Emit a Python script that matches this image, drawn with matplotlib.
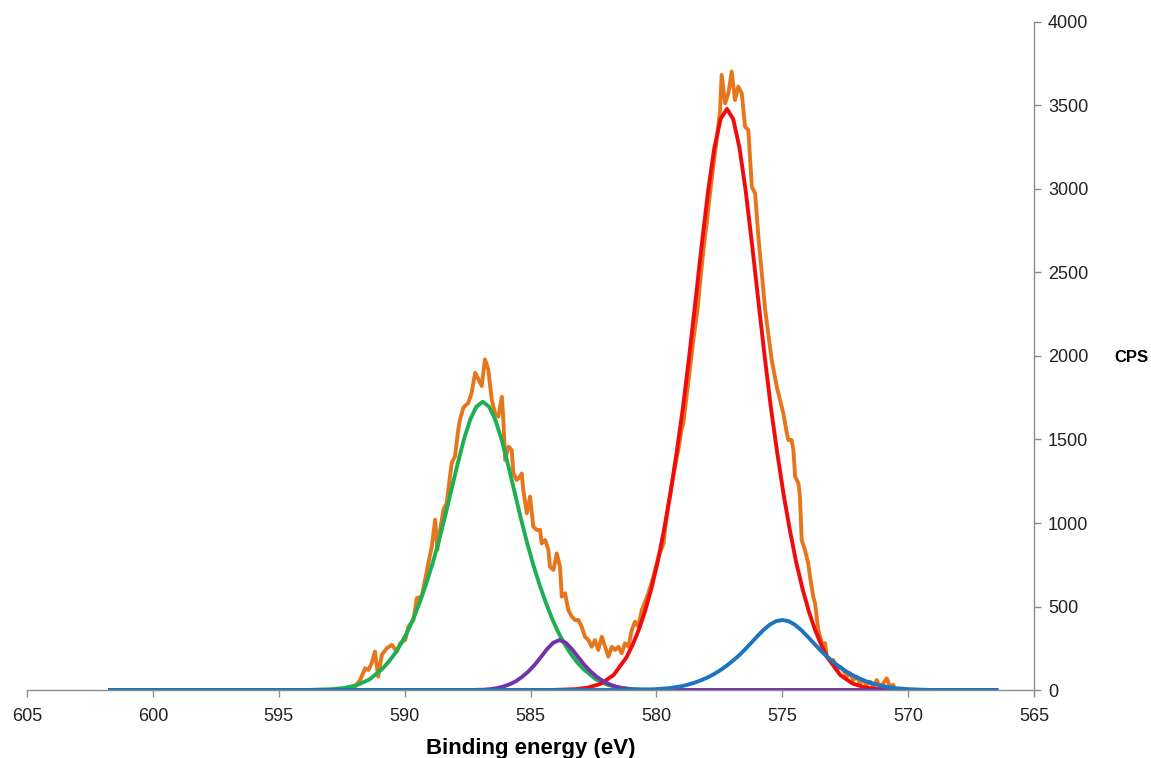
import matplotlib.pyplot as plt

plt.rcParams["font.family"] = ["Liberation Sans", "DejaVu Sans"]

# measured spectrum (binding energy in eV, counts per second)
raw_ev = [591.97, 591.77, 591.57, 591.44, 591.31, 591.18, 591.05, 590.91, 590.71, 590.51,
          590.31, 590.18, 589.98, 589.85, 589.65, 589.52, 589.32, 589.19, 589.06, 588.92,
          588.79, 588.70, 588.59, 588.46, 588.33, 588.20, 588.13, 588.00, 587.87, 587.80,
          587.67, 587.47, 587.34, 587.20, 587.07, 586.94, 586.81, 586.68, 586.54, 586.41,
          586.28, 586.14, 586.08, 586.01, 585.88, 585.75, 585.68, 585.55, 585.42, 585.35,
          585.29, 585.15, 585.02, 584.89, 584.75, 584.62, 584.56, 584.42, 584.29, 584.23,
          584.09, 583.96, 583.83, 583.76, 583.63, 583.50, 583.36, 583.23, 583.10, 582.97,
          582.84, 582.70, 582.57, 582.44, 582.31, 582.17, 582.04, 581.91, 581.77, 581.64,
          581.51, 581.38, 581.25, 581.11, 580.98, 580.85, 580.72, 580.58, 580.32, 580.12,
          579.92, 579.72, 579.66, 579.53, 579.40, 579.27, 579.13, 579.00, 578.93, 578.80,
          578.66, 578.53, 578.37, 578.26, 578.13, 578.00, 577.86, 577.73, 577.60, 577.47,
          577.41, 577.27, 577.14, 577.01, 576.88, 576.75, 576.61, 576.48, 576.35, 576.21,
          576.08, 575.95, 575.68, 575.42, 575.22, 574.96, 574.82, 574.76, 574.63, 574.56,
          574.49, 574.36, 574.30, 574.23, 574.10, 573.97, 573.90, 573.77, 573.70, 573.57,
          573.43, 573.30, 573.24, 573.10, 572.97, 572.84, 572.71, 572.57, 572.44, 572.31,
          572.18, 572.04, 571.91, 571.78, 571.65, 571.51, 571.38, 571.25, 571.12, 570.99,
          570.85, 570.72, 570.60]
raw_cps = [20, 60, 130, 120, 160, 230, 80, 210, 250, 270,
           230, 280, 300, 380, 420, 550, 560, 660, 760, 860,
           1020, 840, 960, 1080, 1120, 1280, 1360, 1400, 1560, 1620,
           1690, 1720, 1780, 1900, 1860, 1820, 1980, 1920, 1737, 1657,
           1637, 1756, 1617, 1377, 1457, 1437, 1297, 1257, 1277, 1297,
           1198, 1058, 1158, 978, 958, 958, 878, 898, 838, 738,
           719, 818, 738, 559, 579, 479, 439, 419, 419, 379,
           319, 299, 259, 299, 240, 319, 259, 200, 259, 240,
           259, 220, 280, 259, 359, 409, 379, 479, 579, 679,
           798, 878, 958, 1100, 1220, 1330, 1440, 1560, 1597, 1760,
           1930, 2100, 2275, 2450, 2640, 2800, 2990, 3150, 3300, 3473,
           3683, 3513, 3573, 3703, 3533, 3613, 3573, 3373, 3353, 3014,
           2974, 2715, 2275, 1976, 1816, 1657, 1537, 1497, 1497, 1437,
           1277, 1238, 1158, 898, 838, 759, 679, 559, 519, 359,
           280, 280, 200, 180, 180, 120, 140, 120, 80, 100,
           60, 80, 40, 60, 30, 50, 20, 60, 20, 40,
           70, 20, 30]

# fitted components
green_ev = [601.7, 593.9, 592.9, 592.4, 591.9, 591.4, 590.9, 590.65, 590.4, 590.15,
            589.9, 589.65, 589.4, 589.15, 588.9, 588.65, 588.4, 588.15, 587.9, 587.65,
            587.4, 587.15, 586.9, 586.65, 586.4, 586.15, 585.9, 585.65, 585.4, 585.15,
            584.9, 584.65, 584.4, 584.15, 583.9, 583.65, 583.4, 583.15, 582.9, 582.4,
            581.9, 581.4, 580.9, 579.9, 566.5]
green_cps = [0, 0, 5, 12, 29, 63, 125, 166, 216, 276,
             346, 429, 526, 634, 754, 888, 1037, 1195, 1352, 1499,
             1618, 1697, 1726, 1697, 1618, 1499, 1352, 1195, 1037, 888,
             754, 634, 526, 429, 346, 276, 216, 166, 125, 63,
             29, 12, 5, 0, 0]

purple_ev = [601.7, 587.35, 586.85, 586.6, 586.35, 586.1, 585.85, 585.6, 585.35, 585.1,
             584.85, 584.6, 584.35, 584.1, 583.85, 583.6, 583.35, 583.1, 582.85, 582.6,
             582.35, 582.1, 581.85, 581.6, 581.35, 581.1, 580.85, 580.35, 566.5]
purple_cps = [0, 0, 2, 5, 11, 20, 33, 51, 77, 109,
              148, 195, 244, 283, 299, 283, 244, 195, 148, 109,
              77, 51, 33, 20, 11, 5, 2, 0, 0]

red_ev = [601.7, 584.2, 583.2, 582.7, 582.2, 581.7, 581.2, 580.95, 580.7, 580.45,
          580.2, 579.95, 579.7, 579.45, 579.2, 578.95, 578.7, 578.45, 578.2, 577.95,
          577.7, 577.45, 577.2, 576.95, 576.7, 576.45, 576.2, 575.95, 575.7, 575.45,
          575.2, 574.95, 574.7, 574.45, 574.2, 573.95, 573.7, 573.45, 573.2, 572.7,
          572.2, 571.7, 571.2, 570.2, 566.5]
red_cps = [0, 0, 5, 15, 38, 90, 193, 269, 361, 473,
           608, 766, 957, 1173, 1419, 1687, 1996, 2328, 2666, 2984,
           3246, 3419, 3480, 3419, 3246, 2984, 2666, 2328, 1996, 1687,
           1419, 1173, 957, 766, 608, 473, 361, 269, 193, 90,
           38, 15, 5, 0, 0]

blue_ev = [601.7, 581.0, 580.5, 580.0, 579.5, 579.0, 578.75, 578.5, 578.25, 578.0,
           577.75, 577.5, 577.25, 577.0, 576.75, 576.5, 576.25, 576.0, 575.75, 575.5,
           575.25, 575.0, 574.75, 574.5, 574.25, 574.0, 573.75, 573.5, 573.25, 573.0,
           572.75, 572.5, 572.25, 572.0, 571.75, 571.5, 571.25, 571.0, 570.5, 570.0,
           569.5, 569.0, 566.5]
blue_cps = [0, 0, 2, 5, 11, 23, 32, 43, 57, 73,
            92, 115, 141, 171, 203, 240, 280, 321, 359, 391,
            412, 419, 412, 391, 359, 321, 280, 240, 203, 171,
            141, 115, 92, 73, 57, 43, 32, 23, 11, 5,
            2, 0, 0]

fig = plt.figure(figsize=(11.51, 7.58), dpi=100)
ax = fig.add_axes([0.0235, 0.0897, 0.8749, 0.8813])

lw = 2.8
ax.plot(raw_ev, raw_cps, color="#E5761B", lw=lw, solid_joinstyle="round")
ax.plot(green_ev, green_cps, color="#1DB052", lw=lw)
ax.plot(red_ev, red_cps, color="#F10C0C", lw=lw)
ax.plot(purple_ev, purple_cps, color="#7433A6", lw=lw)
ax.plot(blue_ev, blue_cps, color="#1C74C2", lw=lw)

ax.set_xlim(605, 565)
ax.set_ylim(0, 4000)
ax.set_xticks(range(605, 564, -5))
ax.set_yticks(range(0, 4001, 500))

ax.yaxis.tick_right()
for side in ["left", "top"]:
    ax.spines[side].set_visible(False)
for side in ["bottom", "right"]:
    ax.spines[side].set_color("#8C8C8C")
    ax.spines[side].set_linewidth(1.0)
ax.tick_params(axis="both", colors="#8C8C8C", length=5, width=1.0,
               labelcolor="#222222", labelsize=13)
ax.tick_params(axis="x", pad=8)
ax.tick_params(axis="y", pad=5)

ax.set_xlabel("Binding energy (eV)", fontsize=16, fontweight="bold", labelpad=9)
fig.text(0.9685, 0.529, "CPS", fontsize=12, fontweight="bold", ha="left", va="center")

fig.savefig("out.png", dpi=100)
